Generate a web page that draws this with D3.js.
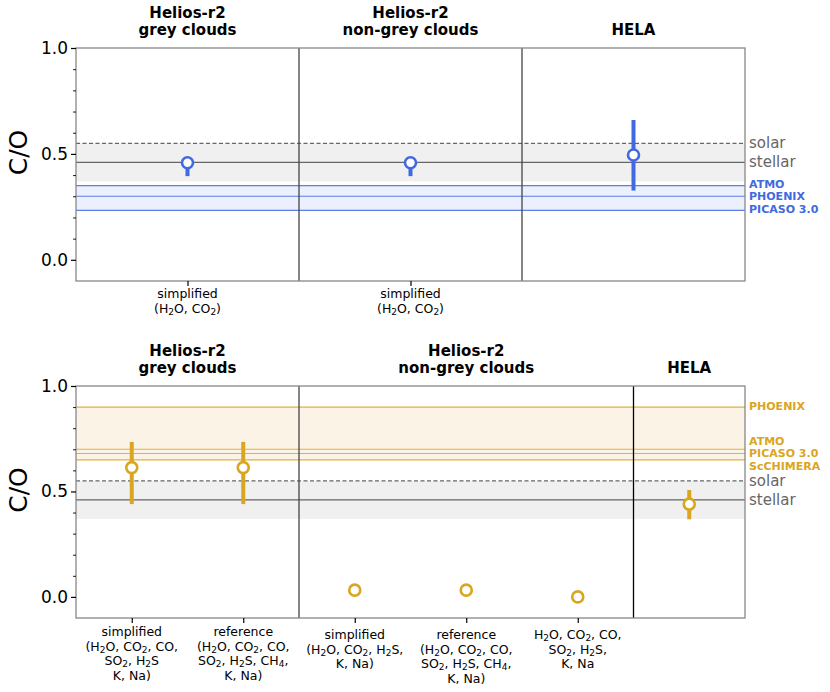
<!DOCTYPE html>
<html>
<head>
<meta charset="utf-8">
<script src="https://cdn.jsdelivr.net/npm/d3@7"></script>
<style>
  body { margin: 0; background: #fff; }
  svg { font-family: "DejaVu Sans", sans-serif; }
</style>
</head>
<body>
<div id="chart"></div>
<script>
// ---- data ----
const topTitles = [["Helios-r2", "grey clouds"], ["Helios-r2", "non-grey clouds"], ["", "HELA"]];
const topTickLabels = [["simplified", "(H_2O, CO_2)"], ["simplified", "(H_2O, CO_2)"], []];
const topValues = [0.458, 0.458, 0.495];
const topLow = [0.395, 0.395, 0.327];
const topHigh = [0.47, 0.47, 0.66];
const topModelNames = ["ATMO", "PHOENIX", "PICASO 3.0"];
const topModelValues = [0.35, 0.30, 0.233];

const bottomTitles = [["Helios-r2", "grey clouds"], ["Helios-r2", "non-grey clouds"], ["", "HELA"]];
const bottomGroupSpans = [[0, 2], [2, 5], [5, 6]];
const bottomTickLabels = [
  ["simplified", "(H_2O, CO_2, CO,", "SO_2, H_2S", "K, Na)"],
  ["reference", "(H_2O, CO_2, CO,", "SO_2, H_2S, CH_4,", "K, Na)"],
  ["simplified", "(H_2O, CO_2, H_2S,", "K, Na)"],
  ["reference", "(H_2O, CO_2, CO,", "SO_2, H_2S, CH_4,", "K, Na)"],
  ["H_2O, CO_2, CO,", "SO_2, H_2S,", "K, Na"],
  []
];
const bottomValues = [0.613, 0.613, 0.032, 0.032, 0.0, 0.44];
const bottomLow = [0.44, 0.44, 0.027, 0.027, -0.004, 0.368];
const bottomHigh = [0.735, 0.735, 0.037, 0.037, 0.004, 0.507];
const bottomModelNames = ["PHOENIX", "ATMO", "PICASO 3.0", "ScCHIMERA"];
const bottomModelValues = [0.90, 0.70, 0.68, 0.65];

const solarCO = 0.55;
const stellarCO = 0.46;
const stellarBand = [0.37, 0.55];
const yTicks = [0.0, 0.5, 1.0];

const W = 830, H = 692;
const left = 76, right = 745;
const grey = "#666";

const svg = d3.select("#chart").append("svg").attr("width", W).attr("height", H);

// text with _2 style subscripts
function richText(sel, str) {
  const parts = str.split(/_(\d)/);
  parts.forEach((p, i) => {
    if (p === "") return;
    const t = sel.append("tspan").text(p);
    if (i % 2 === 1) t.attr("baseline-shift", "-22%").attr("font-size", "0.72em");
  });
}

// push overlapping labels apart
function spread(ys, gap) {
  const out = ys.slice();
  const idx = d3.range(ys.length).sort((a, b) => ys[a] - ys[b]);
  for (let it = 0; it < 50; it++) {
    for (let k = 1; k < idx.length; k++) {
      const a = idx[k - 1], b = idx[k];
      const d = out[b] - out[a];
      if (d < gap) {
        const m = (gap - d) / 2;
        out[a] -= m; out[b] += m;
      }
    }
  }
  return out;
}

function panel(cfg) {
  const n = cfg.values.length;
  const x = d3.scaleLinear().domain([0, n]).range([left, right]);
  const y = d3.scaleLinear().domain([-0.1, 1.0]).range([cfg.bottom, cfg.top]);
  const g = svg.append("g");
  const col = cfg.color;

  // bands
  g.append("rect").attr("x", left).attr("width", right - left)
    .attr("y", y(stellarBand[1])).attr("height", y(stellarBand[0]) - y(stellarBand[1]))
    .attr("fill", "#f0f0f0");
  const mExt = d3.extent(cfg.modelValues);
  g.append("rect").attr("x", left).attr("width", right - left)
    .attr("y", y(mExt[1])).attr("height", y(mExt[0]) - y(mExt[1]))
    .attr("fill", cfg.bandFill);

  // model lines
  g.selectAll(".model").data(cfg.modelValues).join("line")
    .attr("x1", left).attr("x2", right)
    .attr("y1", d => y(d)).attr("y2", d => y(d))
    .attr("stroke", col).attr("stroke-opacity", 0.85).attr("stroke-width", 1.2);

  // solar / stellar
  g.append("line").attr("x1", left).attr("x2", right)
    .attr("y1", y(solarCO)).attr("y2", y(solarCO))
    .attr("stroke", grey).attr("stroke-width", 1.2).attr("stroke-dasharray", "4,2.5");
  g.append("line").attr("x1", left).attr("x2", right)
    .attr("y1", y(stellarCO)).attr("y2", y(stellarCO))
    .attr("stroke", grey).attr("stroke-width", 1.4);

  // group dividers
  cfg.dividers.forEach((d, i) => {
    g.append("line").attr("x1", x(d)).attr("x2", x(d))
      .attr("y1", cfg.top).attr("y2", cfg.bottom)
      .attr("stroke", cfg.dividerColors[i]).attr("stroke-width", 1.3);
  });

  // error bars + points
  const idx = d3.range(n);
  g.selectAll(".err").data(idx).join("line")
    .attr("x1", i => x(i + 0.5)).attr("x2", i => x(i + 0.5))
    .attr("y1", i => y(cfg.low[i])).attr("y2", i => y(cfg.high[i]))
    .attr("stroke", col).attr("stroke-width", 4);
  g.selectAll(".pt").data(idx).join("circle")
    .attr("cx", i => x(i + 0.5)).attr("cy", i => y(cfg.values[i]))
    .attr("r", 5.5).attr("fill", "#fff").attr("stroke", col).attr("stroke-width", 2.6);

  // frame
  g.append("rect").attr("x", left).attr("y", cfg.top)
    .attr("width", right - left).attr("height", cfg.bottom - cfg.top)
    .attr("fill", "none").attr("stroke", "#888").attr("stroke-width", 1.3);

  // y axis
  const ya = g.append("g").attr("transform", `translate(${left},0)`)
    .call(d3.axisLeft(y).tickValues(yTicks).tickFormat(d3.format(".1f")).tickSize(5).tickPadding(3));
  ya.select(".domain").remove();
  ya.selectAll("text").attr("font-size", 17).attr("fill", "#000").attr("font-family", "DejaVu Sans");
  ya.selectAll("line").attr("stroke-width", 1.2);
  const minor = d3.range(-1, 11).map(v => v / 10).filter(v => v % 0.5 !== 0 && v > -0.1);
  const ym = g.append("g").attr("transform", `translate(${left},0)`)
    .call(d3.axisLeft(y).tickValues(minor).tickFormat("").tickSize(3));
  ym.select(".domain").remove();
  ym.selectAll("line").attr("stroke-width", 0.9);

  // x axis ticks (only labelled categories)
  const labelled = idx.filter(i => cfg.tickLabels[i].length);
  const xa = g.append("g").attr("transform", `translate(0,${cfg.bottom})`)
    .call(d3.axisBottom(x).tickValues(labelled.map(i => i + 0.5)).tickFormat("").tickSize(5));
  xa.select(".domain").remove();
  xa.selectAll("line").attr("stroke-width", 1.2);

  labelled.forEach(i => {
    const lines = cfg.tickLabels[i];
    const y0 = cfg.bottom + cfg.labelOffset[i];
    lines.forEach((ln, k) => {
      const t = g.append("text").attr("x", x(i + 0.5)).attr("y", y0 + k * 14.5)
        .attr("text-anchor", "middle").attr("font-size", 12.5).attr("fill", "#000");
      richText(t, ln);
    });
  });

  // titles
  cfg.titles.forEach((tl, j) => {
    const span = cfg.titleSpans[j];
    const cx = x((span[0] + span[1]) / 2);
    tl.forEach((ln, k) => {
      if (!ln) return;
      g.append("text").attr("x", cx).attr("y", cfg.top - 30 + k * 17)
        .attr("text-anchor", "middle").attr("font-size", 15).attr("font-weight", "bold")
        .text(ln);
    });
  });

  // y label
  const my = (cfg.top + cfg.bottom) / 2 - 12;
  g.append("text").attr("transform", `translate(27,${my}) rotate(-90)`)
    .attr("text-anchor", "middle").attr("font-size", 25).text("C/O");

  // right labels
  g.append("text").attr("x", right + 4).attr("y", y(solarCO) + 5)
    .attr("font-size", 15).attr("fill", grey).text("solar");
  g.append("text").attr("x", right + 4).attr("y", y(stellarCO) + 5)
    .attr("font-size", 15).attr("fill", grey).text("stellar");
  const ly = spread(cfg.modelValues.map(v => y(v)), 12.5);
  cfg.modelNames.forEach((nm, i) => {
    g.append("text").attr("x", right + 4).attr("y", ly[i] + 3)
      .attr("font-size", 11).attr("font-weight", "bold").attr("fill", col).text(nm);
  });
}

panel({
  top: 48, bottom: 281,
  values: topValues, low: topLow, high: topHigh,
  tickLabels: topTickLabels, labelOffset: [17, 17, 17],
  modelNames: topModelNames, modelValues: topModelValues,
  titles: topTitles, titleSpans: [[0, 1], [1, 2], [2, 3]],
  dividers: [1, 2], dividerColors: ["#444", "#444"],
  color: "#4169E1", bandFill: "#ebf0fc"
});

panel({
  top: 386, bottom: 618,
  values: bottomValues, low: bottomLow, high: bottomHigh,
  tickLabels: bottomTickLabels, labelOffset: [18, 18, 21, 21, 21, 21],
  modelNames: bottomModelNames, modelValues: bottomModelValues,
  titles: bottomTitles, titleSpans: bottomGroupSpans,
  dividers: [2, 5], dividerColors: ["#444", "#000"],
  color: "#DAA520", bandFill: "#fbf4e6"
});
</script>
</body>
</html>
